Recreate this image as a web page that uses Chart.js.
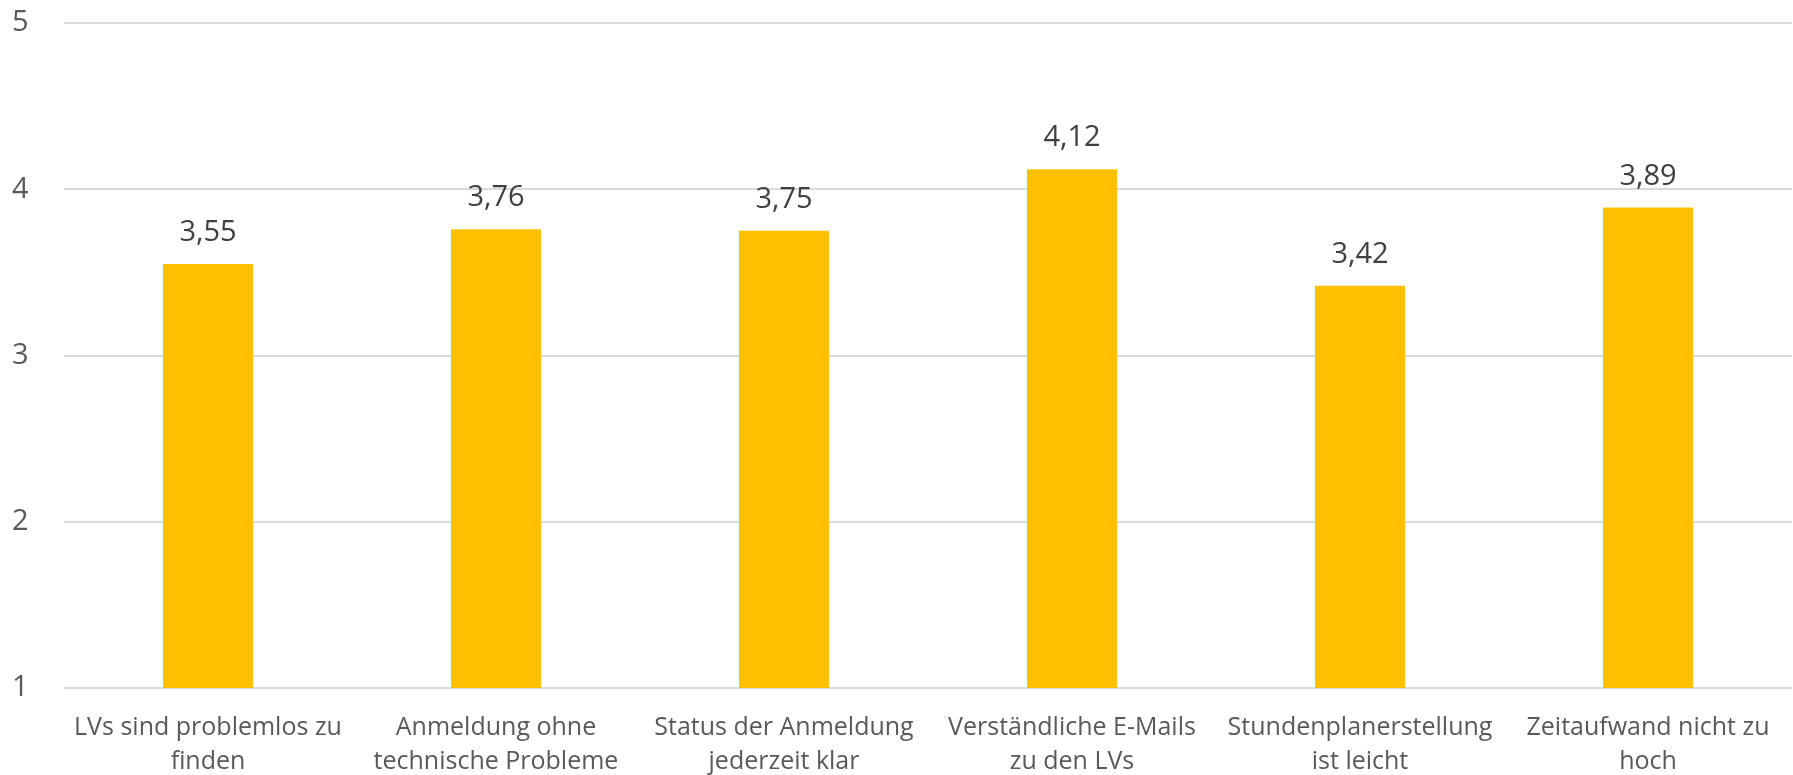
<!DOCTYPE html>
<html>
<head>
<meta charset="utf-8">
<script src="https://cdn.jsdelivr.net/npm/chart.js@4"></script>
<style>
  html, body { margin: 0; padding: 0; background: #fff; }
  #wrap { width: 1793px; height: 775px; }
</style>
</head>
<body>
<div id="wrap"><canvas id="chart" width="1793" height="775"></canvas></div>
<script>
const categories = [
    ["LVs sind problemlos zu", "finden"],
    ["Anmeldung ohne", "technische Probleme"],
    ["Status der Anmeldung", "jederzeit klar"],
    ["Verständliche E-Mails", "zu den LVs"],
    ["Stundenplanerstellung", "ist leicht"],
    ["Zeitaufwand nicht zu", "hoch"]
];
const values = [3.55, 3.76, 3.75, 4.12, 3.42, 3.89];
const yTicks = [1, 2, 3, 4, 5];

const fontFamily = "Open Sans, Lato, sans-serif";

// Werte über den Balken
const valueLabels = {
    id: 'valueLabels',
    afterDatasetsDraw(chart) {
        const ctx = chart.ctx;
        const meta = chart.getDatasetMeta(0);
        ctx.save();
        ctx.font = "29px " + fontFamily;
        ctx.fillStyle = "#404040";
        ctx.textAlign = "center";
        ctx.textBaseline = "alphabetic";
        meta.data.forEach((bar, i) => {
            const txt = values[i].toFixed(2).replace('.', ',');
            ctx.fillText(txt, bar.x, bar.y - 23);
        });
        ctx.restore();
    }
};

new Chart(document.getElementById("chart"), {
    type: "bar",
    data: {
        labels: categories,
        datasets: [{
            data: values,
            backgroundColor: "#FFC000",
            barPercentage: 0.3125,
            categoryPercentage: 1.0
        }]
    },
    options: {
        responsive: false,
        animation: false,
        layout: { padding: { top: 23, right: 1, left: 12, bottom: 0 } },
        plugins: {
            legend: { display: false },
            tooltip: { enabled: false }
        },
        scales: {
            x: {
                grid: { display: false, drawTicks: false },
                border: { display: false },
                ticks: {
                    color: "#595959",
                    font: { family: fontFamily, size: 25, lineHeight: 1.36 },
                    padding: 23,
                    maxRotation: 0,
                    autoSkip: false
                },
                afterFit(scale) { scale.height = 87; }
            },
            y: {
                min: yTicks[0],
                max: yTicks[yTicks.length - 1],
                grid: { color: "#d9d9d9", lineWidth: 2, drawTicks: false },
                border: { display: false },
                ticks: {
                    stepSize: 1,
                    color: "#595959",
                    font: { family: fontFamily, size: 29 },
                    crossAlign: "far",
                    padding: 0
                },
                afterFit(scale) { scale.width = 52; }
            }
        }
    },
    plugins: [valueLabels]
});
</script>
</body>
</html>
